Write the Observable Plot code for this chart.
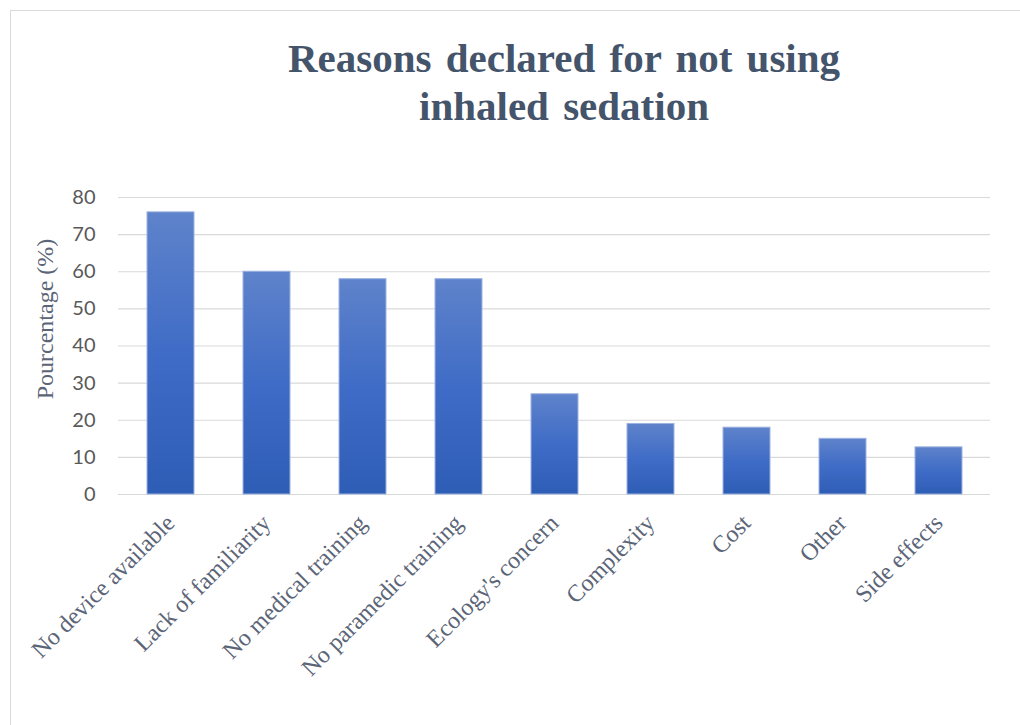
<!DOCTYPE html>
<html>
<head>
<meta charset="utf-8">
<script src="https://cdn.jsdelivr.net/npm/d3@7"></script>
<script src="https://cdn.jsdelivr.net/npm/@observablehq/plot@0.6"></script>
<style>
  html, body { margin: 0; padding: 0; background: #fff; }
  #wrap { position: relative; width: 1020px; height: 725px; overflow: hidden; }
  #frame { position: absolute; left: 10px; top: 10px; width: 1030px; height: 740px; border: 1px solid #d9d9d9; box-sizing: border-box; }
  #title { position: relative; height: 150px; box-sizing: border-box; padding-top: 34px; text-align: center;
    font-family: "Liberation Serif", "Times New Roman", serif; font-weight: bold; font-size: 41px; line-height: 48px;
    color: #44546a; word-spacing: 4px; padding-left: 108px; }
  #chart { position: relative; }
  #chart svg { display: block; }
</style>
</head>
<body>
<div id="wrap">
  <div id="frame"></div>
  <div id="title">Reasons declared for not using<br>inhaled  sedation</div>
  <div id="chart"></div>
</div>
<script>
const reasons = ["No device available", "Lack of familiarity", "No medical training", "No paramedic training", "Ecology's concern", "Complexity", "Cost", "Other", "Side effects"];
const percentages = [76, 60, 58, 58, 27, 19, 18, 15, 12.7];
const yTicks = [0, 10, 20, 30, 40, 50, 60, 70, 80];
const yLabel = "Pourcentage (%)";

const data = reasons.map((r, i) => ({reason: r, value: percentages[i]}));

const plot = Plot.plot({
  width: 1020,
  height: 575,
  marginTop: 47,
  marginBottom: 231,
  marginLeft: 118,
  marginRight: 30,
  style: {background: "transparent", overflow: "visible"},
  x: {domain: reasons, paddingInner: 0.515, paddingOuter: 0.2575, axis: null},
  y: {domain: [0, 80], axis: null},
  marks: [
    Plot.ruleY(yTicks, {stroke: "#d9d9d9", strokeWidth: 1.2}),
    Plot.barY(data, {x: "reason", y: "value", fill: "url(#barGrad)", stroke: "#9db3df", strokeWidth: 1}),
    Plot.axisY({ticks: yTicks, tickSize: 0, tickPadding: 23, label: null, fontSize: 20, fontFamily: "Lato, 'Liberation Sans', sans-serif", color: "#595959"}),
    Plot.text(data, {x: "reason", y: 0, text: "reason", rotate: -45, textAnchor: "end", lineAnchor: "bottom", dx: 5, dy: 30,
      fontSize: 24, fontFamily: "'Liberation Serif', 'Times New Roman', serif", fill: "#5b6577"}),
    Plot.text([yLabel], {text: d => d, frameAnchor: "left", textAnchor: "middle", lineAnchor: "middle", rotate: -90, dx: -73, dy: -27,
      fontSize: 24, fontFamily: "'Liberation Serif', 'Times New Roman', serif", fill: "#5b6577"})
  ]
});

const defs = d3.create("svg:defs");
const grad = defs.append("linearGradient").attr("id", "barGrad").attr("x1", 0).attr("y1", 0).attr("x2", 0).attr("y2", 1);
grad.append("stop").attr("offset", "0%").attr("stop-color", "#5f83cb");
grad.append("stop").attr("offset", "50%").attr("stop-color", "#3f6cc6");
grad.append("stop").attr("offset", "100%").attr("stop-color", "#2e5db6");
plot.insertBefore(defs.node(), plot.firstChild);

document.getElementById("chart").appendChild(plot);
</script>
</body>
</html>
